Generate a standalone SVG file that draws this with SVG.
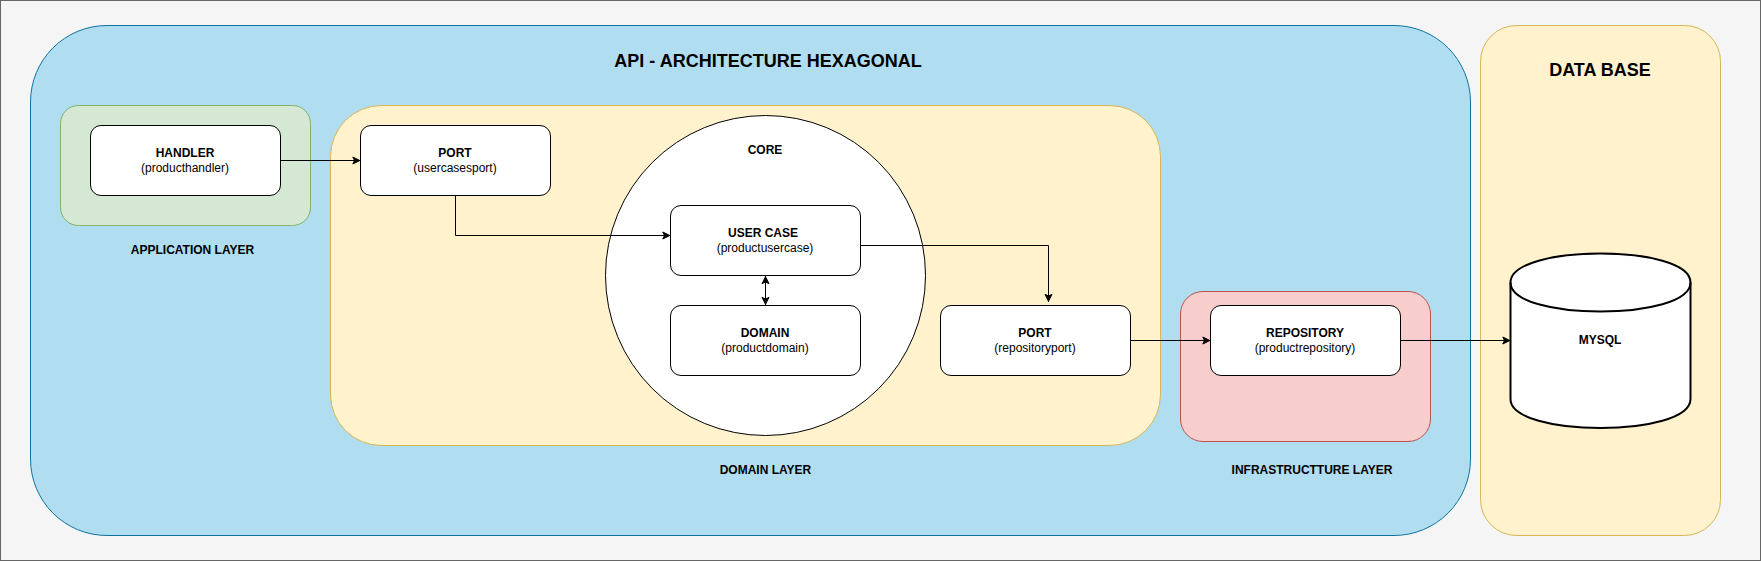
<svg xmlns="http://www.w3.org/2000/svg" width="1761" height="561" viewBox="0 0 1761 561">
<style>
text{font-family:"Liberation Sans",Arial,sans-serif;font-size:12px;text-anchor:middle;fill:#000}
.b{font-weight:bold}
.t{font-weight:bold;font-size:18px}
.n{fill:#fff;stroke:#000;stroke-width:1}
.c{fill:none;stroke:#000;stroke-width:1}
.y{fill:#fff2cc;stroke:#d6b656}
</style>
<defs>
<marker id="a" markerUnits="userSpaceOnUse" markerWidth="12" markerHeight="12" refX="8.700" refY="6" orient="auto-start-reverse" viewBox="0 0 12 12" overflow="visible"><path d="M1 2.500 8 6 1 9.500 2.750 6Z" fill="#000" stroke="#000"/></marker>
</defs>
<rect id="background" x="0.5" y="0.5" width="1760" height="560" fill="#f5f5f5" stroke="#666666"/>
<g id="api"><rect x="30.5" y="25.5" width="1440" height="510" rx="76.5" fill="#b1ddf0" stroke="#10739e"/><text class="t" x="768" y="67">API - ARCHITECTURE HEXAGONAL</text></g>
<g id="database"><rect class="y" x="1480.5" y="25.5" width="240" height="510" rx="36"/><text class="t" x="1600" y="76">DATA BASE</text></g>
<g id="application-layer"><rect x="60.5" y="105.5" width="250" height="120" rx="18" fill="#d5e8d4" stroke="#82b366"/><text class="b" x="192.500" y="254">APPLICATION LAYER</text></g>
<g id="domain-layer"><rect class="y" x="330.5" y="105.5" width="830" height="340" rx="51"/><text class="b" x="765.5" y="474">DOMAIN LAYER</text></g>
<g id="infrastructure-layer"><rect x="1180.5" y="291.500" width="250" height="150" rx="22.5" fill="#f8cecc" stroke="#b85450"/><text class="b" x="1312" y="474">INFRASTRUCTTURE LAYER</text></g>
<g id="core"><circle class="n" cx="765.5" cy="275.5" r="160"/><text class="b" x="765" y="154">CORE</text></g>
<g id="handler"><rect class="n" x="90.5" y="125.5" width="190" height="70" rx="10.5"/><text class="b" x="185" y="157">HANDLER</text><text x="185" y="172">(producthandler)</text></g>
<g id="port-usecase"><rect class="n" x="360.5" y="125.5" width="190" height="70" rx="10.5"/><text class="b" x="455" y="157">PORT</text><text x="455" y="172">(usercasesport)</text></g>
<g id="user-case"><rect class="n" x="670.5" y="205.5" width="190" height="70" rx="10.5"/><text class="b" x="763" y="237">USER CASE</text><text x="765" y="252">(productusercase)</text></g>
<g id="domain"><rect class="n" x="670.5" y="305.500" width="190" height="70" rx="10.5"/><text class="b" x="765" y="337">DOMAIN</text><text x="765" y="352">(productdomain)</text></g>
<g id="port-repository"><rect class="n" x="940.5" y="305.500" width="190" height="70" rx="10.5"/><text class="b" x="1035" y="337">PORT</text><text x="1035" y="352">(repositoryport)</text></g>
<g id="repository"><rect class="n" x="1210.5" y="305.500" width="190" height="70" rx="10.5"/><text class="b" x="1305" y="337">REPOSITORY</text><text x="1305" y="352">(productrepository)</text></g>
<g id="mysql"><path d="M1510.500 282.500C1510.500 243.800 1690.500 243.800 1690.500 282.500V399C1690.500 437.700 1510.500 437.700 1510.500 399Z" fill="#fff" stroke="#000" stroke-width="2"/><path d="M1510.500 282.500C1510.500 321.200 1690.500 321.200 1690.500 282.500" fill="none" stroke="#000" stroke-width="2"/><text class="b" x="1600" y="344">MYSQL</text></g>
<g id="connectors">
<path class="c" d="M280.500 160.500H360.500" marker-end="url(#a)"/>
<path class="c" d="M455.500 195.500V235.500H670.500" marker-end="url(#a)"/>
<path class="c" d="M860.500 245.500H1048.500V302" marker-end="url(#a)"/>
<path class="c" d="M765.500 276V305" marker-start="url(#a)" marker-end="url(#a)"/>
<path class="c" d="M1130.500 340.500H1210.500" marker-end="url(#a)"/>
<path class="c" d="M1400.500 340.500H1510.500" marker-end="url(#a)"/>
</g>
</svg>
